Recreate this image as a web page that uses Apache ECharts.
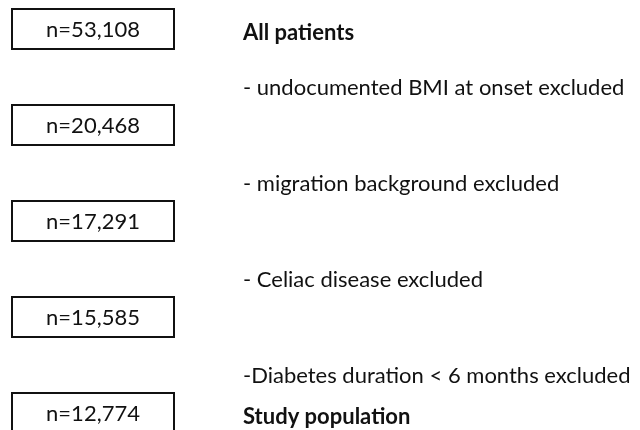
<!DOCTYPE html>
<html>
<head>
<meta charset="utf-8">
<script src="https://cdn.jsdelivr.net/npm/echarts@6/dist/echarts.min.js"></script>
<style>
html,body{margin:0;padding:0;background:#fff;}
#main{width:640px;height:430px;}
</style>
</head>
<body>
<div id="main"></div>
<script>
// patient numbers at each step of the selection
var counts = [53108, 20468, 17291, 15585, 12774];
var exclusions = ['- undocumented BMI at onset excluded', '- migration background excluded', '- Celiac disease excluded', '-Diabetes duration < 6 months excluded'];
var headLabels = ['All patients', 'Study population'];

var FONT = 'Lato';

function fmt(v){
    return 'n=' + v.toLocaleString('en-US');
}

var boxData = [];
for(var i=0;i<counts.length;i++){
    boxData.push([i, counts[i]]);
}
var exclData = [];
for(var j=0;j<exclusions.length;j++){
    exclData.push([j + 0.6, exclusions[j]]);
}
var headData = [[0, headLabels[0]], [counts.length - 1, headLabels[1]]];

var myChart = echarts.init(document.getElementById('main'));
var option = {
    animation:false,
    grid:{left:0,right:0,top:29,bottom:17},
    xAxis:{type:'value',min:0,max:640,show:false},
    yAxis:{type:'value',min:0,max:4,inverse:true,show:false},
    series:[
        {
            // boxes with counts
            type:'custom',
            data:boxData,
            renderItem:function(params,api){
                var p = api.coord([93, api.value(0)]);
                return {
                    type:'group',
                    children:[{
                        type:'rect',
                        shape:{x:p[0]-81,y:p[1]-20,width:162,height:40},
                        style:{fill:'#fff',stroke:'#111',lineWidth:2}
                    },{
                        type:'text',
                        style:{
                            x:p[0],y:p[1]+1,
                            text:fmt(api.value(1)),
                            fill:'#111',
                            font:'22px ' + FONT,
                            align:'center',verticalAlign:'middle'
                        }
                    }]
                };
            }
        },
        {
            // exclusion steps
            type:'custom',
            data:exclData,
            renderItem:function(params,api){
                var p = api.coord([243, api.value(0)]);
                return {
                    type:'text',
                    style:{
                        x:p[0],y:p[1]+1,
                        text:exclusions[params.dataIndex],
                        fill:'#111',
                        font:'22px ' + FONT,
                        align:'left',verticalAlign:'middle'
                    }
                };
            }
        },
        {
            // start / end labels
            type:'custom',
            data:headData,
            renderItem:function(params,api){
                var p = api.coord([243, api.value(0)]);
                return {
                    type:'text',
                    style:{
                        x:p[0],y:p[1]+4,
                        text:headLabels[params.dataIndex],
                        fill:'#111',
                        font:'bold 22px ' + FONT,
                        align:'left',verticalAlign:'middle'
                    }
                };
            }
        }
    ]
};
myChart.setOption(option);
</script>
</body>
</html>
